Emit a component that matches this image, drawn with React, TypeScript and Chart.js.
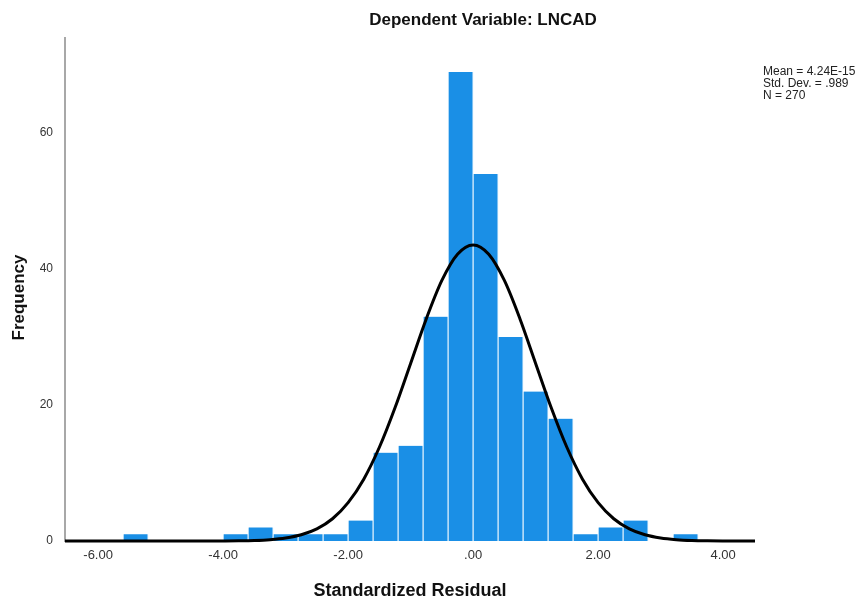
import React, { useEffect, useRef } from "react";
import { Chart, registerables } from "chart.js";

Chart.register(...registerables);

const binCenters = [-5.4, -5.0, -4.6, -4.2, -3.8, -3.4, -3.0, -2.6, -2.2, -1.8, -1.4, -1.0, -0.6, -0.2, 0.2, 0.6, 1.0, 1.4, 1.8, 2.2, 2.6, 3.0, 3.4];
const binCounts = [1, 0, 0, 0, 1, 2, 1, 1, 1, 3, 13, 14, 33, 69, 54, 30, 22, 18, 1, 2, 3, 0, 1];

const curveX = [-6.53, -6, -5.5, -5, -4.5, -4.25, -4, -3.75, -3.5, -3.25, -3, -2.75, -2.5, -2.25, -2, -1.75, -1.5, -1.25, -1, -0.75, -0.5, -0.25, 0, 0.25, 0.5, 0.75, 1, 1.25, 1.5, 1.75, 2, 2.25, 2.5, 2.75, 3, 3.25, 3.5, 3.75, 4, 4.25, 4.51];
const curveY = [0, 0, 0, 0, 0, 0, 0.01, 0.03, 0.08, 0.2, 0.44, 0.91, 1.78, 3.27, 5.64, 9.1, 13.79, 19.6, 26.13, 32.67, 38.33, 42.19, 43.56, 42.19, 38.33, 32.67, 26.13, 19.6, 13.79, 9.1, 5.64, 3.27, 1.78, 0.91, 0.44, 0.2, 0.08, 0.03, 0.01, 0, 0];

const xTicks = [-6, -4, -2, 0, 2, 4];
const yTicks = [0, 20, 40, 60];

const titleText = "Dependent Variable: LNCAD";
const xTitle = "Standardized Residual";
const yTitle = "Frequency";
const statsLines = ["Mean = 4.24E-15", "Std. Dev. = .989", "N = 270"];

const FONT = "'Liberation Sans', Arial, sans-serif";

export default function App() {
  const ref = useRef<HTMLCanvasElement | null>(null);

  useEffect(() => {
    if (!ref.current) return;
    const textPlugin = {
      id: "texts",
      afterDraw(chart: any) {
        const ctx = chart.ctx;
        const area = chart.chartArea;
        ctx.save();
        ctx.fillStyle = "#111";
        ctx.font = `bold 17px ${FONT}`;
        ctx.textAlign = "center";
        ctx.textBaseline = "middle";
        ctx.fillText(titleText, 483, 20);
        ctx.font = `bold 18px ${FONT}`;
        ctx.fillText(xTitle, (area.left + area.right) / 2, 591);
        ctx.save();
        ctx.font = `bold 17px ${FONT}`;
        ctx.translate(19, (area.top + area.bottom) / 2 + 8);
        ctx.rotate(-Math.PI / 2);
        ctx.fillText(yTitle, 0, 0);
        ctx.restore();
        ctx.font = `12px ${FONT}`;
        ctx.textAlign = "left";
        ctx.fillStyle = "#222";
        statsLines.forEach((s, i) => ctx.fillText(s, 763, 72 + i * 12));
        ctx.restore();
      },
    };

    const chart = new Chart(ref.current, {
      type: "bar",
      data: {
        datasets: [
          {
            type: "line",
            data: curveX.map((x, i) => ({ x, y: curveY[i] })),
            borderColor: "#000",
            borderWidth: 3,
            pointRadius: 0,
            cubicInterpolationMode: "monotone",
            clip: false,
            order: 0,
          } as any,
          {
            type: "bar",
            data: binCenters.map((x, i) => ({ x, y: binCounts[i] })),
            backgroundColor: "#1a8fe6",
            borderColor: "#d8ecfb",
            borderWidth: { left: 1, right: 1, top: 0, bottom: 0 },
            barPercentage: 1,
            categoryPercentage: 1,
            order: 1,
          } as any,
        ],
      },
      options: {
        responsive: false,
        devicePixelRatio: 1,
        animation: false,
        layout: { padding: { left: 0, right: 110, top: 38, bottom: 0 } },
        plugins: { legend: { display: false }, tooltip: { enabled: false }, title: { display: false } },
        scales: {
          x: {
            type: "linear",
            offset: false,
            min: -6.53,
            max: 4.51,
            grid: { display: false, drawTicks: false, offset: false },
            border: { display: false },
            afterBuildTicks: (s: any) => {
              s.ticks = xTicks.map((v) => ({ value: v }));
            },
            afterFit: (s: any) => {
              s.height = 65;
            },
            ticks: {
              padding: 7,
              color: "#333",
              font: { family: FONT, size: 13 },
              callback: (v: any) => (Number(v) === 0 ? ".00" : Number(v).toFixed(2)),
            },
          },
          y: {
            type: "linear",
            min: 0,
            max: 74,
            grid: { display: false, drawTicks: false },
            border: { display: true, color: "#a8a8a8", width: 2 },
            afterBuildTicks: (s: any) => {
              s.ticks = yTicks.map((v) => ({ value: v }));
            },
            afterFit: (s: any) => {
              s.width = 65;
            },
            ticks: {
              padding: 12,
              color: "#333",
              font: { family: FONT, size: 12 },
            },
          },
        },
      },
      plugins: [textPlugin],
    });
    return () => chart.destroy();
  }, []);

  return (
    <canvas
      ref={ref}
      width={865}
      height={606}
      style={{ position: "fixed", left: 0, top: 0, display: "block", background: "#fff" }}
    />
  );
}
